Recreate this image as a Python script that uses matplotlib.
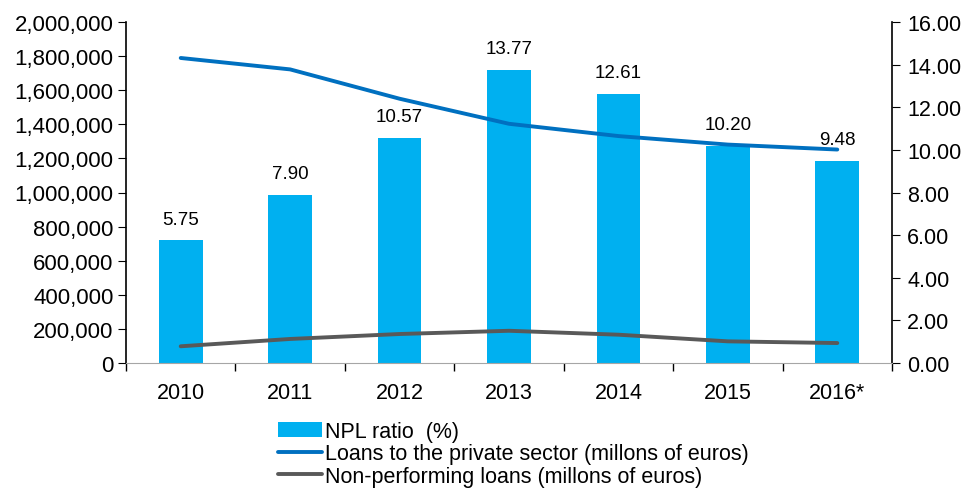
import matplotlib
matplotlib.use("Agg")
import matplotlib.pyplot as plt
from matplotlib.ticker import FuncFormatter, FixedLocator
import numpy as np

plt.rcParams["font.family"] = ["Liberation Sans", "DejaVu Sans"]

years = ["2010", "2011", "2012", "2013", "2014", "2015", "2016*"]
npl_ratio = [5.75, 7.90, 10.57, 13.77, 12.61, 10.20, 9.48]
loans_private = [1789000, 1722000, 1550000, 1403000, 1331000, 1281000, 1252000]
npl_loans = [98000, 141000, 170000, 189000, 166000, 127000, 117000]

x = np.arange(len(years))

fig = plt.figure(figsize=(9.67, 4.89), dpi=100)
ax = fig.add_axes([126 / 967, 1 - 364 / 489, (892 - 126) / 967, (364 - 23) / 489])
ax2 = ax.twinx()

# bars on the right (ratio) axis, lines on the left axis
bars = ax2.bar(x, npl_ratio, width=0.4, color="#00B0F0", label="NPL ratio  (%)", zorder=1)
for xi, v in zip(x, npl_ratio):
    ax2.text(xi, v + 0.6, f"{v:.2f}", ha="center", va="bottom", fontsize=13.5)
ax2.set_ylim(0, 16)
ax2.set_yticks(np.arange(0, 16.01, 2))
ax2.yaxis.set_major_formatter(FuncFormatter(lambda v, p: f"{v:.2f}"))

ax.set_zorder(ax2.get_zorder() + 1)
ax.patch.set_visible(False)
l1, = ax.plot(x, loans_private, color="#0070C0", lw=2.8, solid_capstyle="round",
              label="Loans to the private sector (millons of euros)")
l2, = ax.plot(x, npl_loans, color="#595959", lw=2.8, solid_capstyle="round",
              label="Non-performing loans (millons of euros)")
ax.set_ylim(0, 2000000)
ax.set_yticks(np.arange(0, 2000001, 200000))
ax.yaxis.set_major_formatter(FuncFormatter(lambda v, p: f"{int(v):,}"))
ax.set_xlim(-0.5, len(years) - 0.5)

ax.set_xticks(x)
ax.set_xticklabels(years)
ax.xaxis.set_minor_locator(FixedLocator(np.arange(-0.5, len(years), 1.0)))
ax.tick_params(axis="x", which="major", length=0, pad=14, labelsize=15.5)
ax.tick_params(axis="x", which="minor", length=6, direction="out", width=1)
ax.tick_params(axis="y", length=6, direction="out", labelsize=16, pad=3)
ax2.tick_params(axis="y", length=6, direction="out", labelsize=15.5, pad=5)

for a in (ax, ax2):
    a.spines["top"].set_visible(False)
ax.spines["right"].set_visible(False)
ax2.spines["left"].set_visible(False)
ax.spines["bottom"].set_color("#a6a6a6")
ax2.spines["bottom"].set_visible(False)
ax.spines["left"].set_linewidth(1.2)
ax2.spines["right"].set_linewidth(1.2)

fig.legend(handles=[bars, l1, l2], loc="upper left", bbox_to_anchor=(278 / 967, 1 - 422 / 489),
           frameon=False, fontsize=15.5, handlelength=2.05, handletextpad=0.15,
           labelspacing=0.06, borderpad=0, borderaxespad=0)

fig.savefig("out.png", dpi=100)
